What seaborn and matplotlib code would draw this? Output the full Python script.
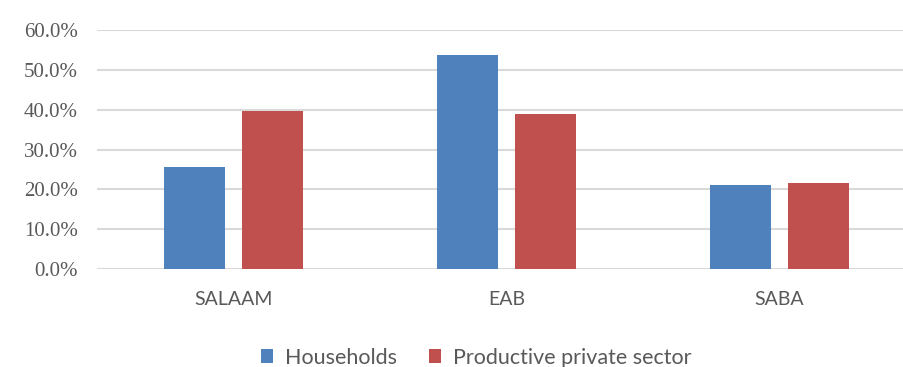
import matplotlib
matplotlib.use("Agg")
import matplotlib.pyplot as plt
import seaborn as sns
import pandas as pd
from matplotlib.ticker import PercentFormatter

# ---- data ----
categories = ["SALAAM", "EAB", "SABA"]
series_names = ["Households", "Productive private sector"]
households = [0.256, 0.538, 0.210]
private_sector = [0.397, 0.389, 0.217]
y_ticks = [0.0, 0.1, 0.2, 0.3, 0.4, 0.5, 0.6]

colors = ["#4F81BD", "#C0504D"]

df = pd.DataFrame({
    "category": categories * 2,
    "series": [series_names[0]] * 3 + [series_names[1]] * 3,
    "value": households + private_sector,
})

sns.set_theme(style="white")
plt.rcParams["font.family"] = ["Lato", "DejaVu Sans"]

fig = plt.figure(figsize=(9.04, 3.67), dpi=100)
W, H = 904, 367
left_px, right_px = 97, 904
top_px, bottom_px = 30, 269
ax = fig.add_axes([left_px / W, 1 - bottom_px / H,
                   (right_px - left_px) / W, (bottom_px - top_px) / H])

sns.barplot(data=df, x="category", y="value", hue="series",
            order=categories, hue_order=series_names, palette=colors,
            width=0.571, gap=0.218, saturation=1, ax=ax, legend=True,
            errorbar=None, linewidth=0)

# x range: category spacing ~273 px, left edge half a category before first
ax.set_xlim(-0.5, -0.5 + (right_px - left_px) / 273.0)
ax.set_ylim(0, 0.6)
ax.set_yticks(y_ticks)
ax.yaxis.set_major_formatter(PercentFormatter(1.0, decimals=1))

ax.grid(axis="y", color="#d9d9d9", linewidth=1.5)
ax.set_axisbelow(True)
for s in ax.spines.values():
    s.set_visible(False)

ax.set_xlabel("")
ax.set_ylabel("")
ax.tick_params(axis="both", length=0)
ax.tick_params(axis="y", pad=14, labelcolor="#595959")
ax.tick_params(axis="x", pad=16, labelcolor="#595959")
for t in ax.get_yticklabels():
    t.set_fontfamily(["Liberation Serif", "DejaVu Serif"])
    t.set_fontsize(15)
for t in ax.get_xticklabels():
    t.set_fontsize(14)

handles, labels = ax.get_legend_handles_labels()
ax.get_legend().remove()
leg = fig.legend(handles, labels, loc="upper center",
                 bbox_to_anchor=(476 / W, 1 - 339 / H), ncol=2, frameon=False,
                 fontsize=15.5, handlelength=0.55, handleheight=0.65,
                 handletextpad=0.55, columnspacing=1.5, borderaxespad=0)
for t in leg.get_texts():
    t.set_color("#595959")

fig.savefig("out.png", dpi=100)
